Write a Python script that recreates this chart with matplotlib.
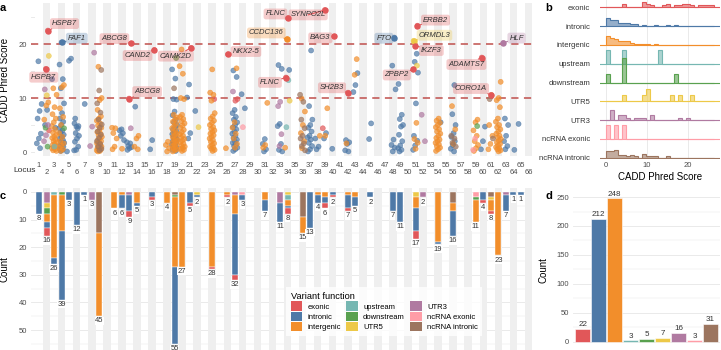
import matplotlib.pyplot as plt
from matplotlib.patches import Patch
from matplotlib.colors import to_rgba
import numpy as np

plt.rcParams['font.family'] = ['Liberation Sans', 'DejaVu Sans']

categories = ['exonic', 'intronic', 'intergenic', 'upstream', 'downstream',
              'UTR5', 'UTR3', 'ncRNA exonic', 'ncRNA intronic']
colors = ['#e15759', '#4e79a7', '#f28e2b', '#76b7b2', '#59a14f',
          '#edc948', '#b07aa1', '#ff9da7', '#9c755f']
n_loci = 66

# CADD Phred scores of the variants, by locus, one dict per variant function
exonic = {2: [22.5, 15.4, 4.0], 13: [20.1, 9.9], 16: [18.9], 21: [19.3], 24: [9.8],
          26: [18.1], 27: [9.8, 9.5], 34: [24.8, 13.8], 39: [26.3, 4.4], 40: [21.4],
          42: [11.0], 51: [23.4, 19.7, 15.3], 60: [17.5], 61: [10.6]}

intronic = {
    1: [16.8, 8.9, 7.6, 6.2, 3.4, 2.5, 1.6, 0.7],
    2: [7.8, 5.0],
    3: [13.5, 4.5],
    4: [20.3, 16.2, 13.5, 11.8, 9.0, 7.2, 6.2, 5.6, 5.0, 4.4, 4.0, 3.6, 3.2, 2.8, 2.5,
        2.2, 1.9, 1.7, 1.4, 1.2, 1.0, 0.8, 0.6, 0.4, 0.2],
    5: [17.3, 16.9, 0.1],
    6: [6.2, 4.8, 4.7, 5.3, 4.4, 3.5, 3.0, 2.5, 1.9, 1.0, 0.4, 0.3],
    7: [8.9],
    12: [4.2, 4.0, 3.5, 3.0, 2.2],
    13: [1.8, 1.6, 1.1, 0.9, 0.7, 0.4],
    14: [8.4],
    16: [2.2, 0.5],
    19: [15.3, 13.6, 9.8, 9.7, 7.5, 6.8, 6.0, 5.5, 5.0, 4.6, 4.2, 3.9, 3.6, 3.3, 3.0,
         2.7, 2.4, 2.2, 2.0, 1.8, 1.6, 1.4, 1.2, 1.0, 0.8, 0.6, 0.4, 0.2],
    21: [12.5, 10.1, 3.5, 2.5],
    22: [7.6],
    27: [15.1, 13.9, 7.8, 7.2, 6.5, 6.0, 5.5, 5.0, 4.6, 4.2, 3.8, 3.4, 3.0, 2.6, 2.3,
         2.0, 1.7, 1.4, 1.1, 0.8, 0.5, 0.2],
    28: [10.7, 8.1],
    31: [2.4, 1.5, 0.5, 0.1],
    33: [16.1, 15.4, 5.2, 4.8, 1.5, 0.4, 0.1],
    34: [15.2],
    37: [18.8, 8.5, 6.0, 5.0, 4.5, 3.8, 3.0, 2.7, 2.3, 1.7, 1.1, 0.5, 0.1],
    38: [2.5, 1.0, 0.5],
    39: [3.5, 2.5],
    40: [0.6],
    42: [2.2, 1.8, 1.5, 0.3, 0.1],
    43: [14.6, 12.4, 11.1],
    45: [5.3, 2.4],
    48: [21.2, 16.0, 11.6, 2.3, 1.3, 0.8, 0.1],
    49: [12.6, 6.9, 6.1, 5.0, 4.7, 3.2, 2.0, 1.2, 0.7, 0.4, 0.1],
    51: [18.2, 16.7, 14.7, 9.0, 3.0, 2.1, 1.2, 0.4],
    54: [5.5],
    56: [12.4, 7.0, 5.0, 3.5, 2.8, 2.0, 1.3, 0.6, 0.1],
    60: [4.7, 2.0, 0.5],
    63: [6.2, 5.0, 3.0, 2.0, 1.1, 0.5],
    64: [0.4],
    65: [5.2],
}

intergenic = {
    2: [9.2, 8.6, 6.0],
    3: [11.8, 10.6, 8.3, 7.0, 6.2, 5.5, 4.8, 4.2, 3.6, 3.2, 2.8, 2.6, 2.3, 2.0, 1.8,
        1.5, 1.3, 1.1, 0.9, 0.7, 0.5, 0.3, 0.2],
    4: [12.4, 12.0, 8.1, 6.5, 5.0, 3.5, 2.8, 2.0, 1.6, 1.2, 0.8, 0.5, 0.2],
    9: [15.8, 10.0, 9.6, 7.8, 6.6, 6.2, 5.8, 5.3, 4.9, 4.5, 4.1, 3.7, 3.4, 3.1, 2.8,
        2.5, 2.2, 2.0, 1.8, 1.6, 1.4, 1.2, 1.0, 0.8, 0.7, 0.5, 0.4, 0.3, 0.2, 0.1],
    11: [4.5, 4.4, 3.5, 2.5, 1.0, 0.5],
    12: [0.6],
    14: [3.0, 2.5, 1.0, 0.5],
    18: [1.9, 1.3, 0.7, 0.1],
    19: [6.9, 6.4, 6.0, 5.6, 5.2, 4.8, 4.4, 4.0, 3.7, 3.4, 3.1, 2.8, 2.5, 2.3, 2.1,
         1.9, 1.7, 1.5, 1.3, 1.1, 0.9, 0.7, 0.5, 0.3, 0.1],
    20: [19.0, 15.9, 14.5, 10.0, 9.8, 6.9, 6.5, 6.1, 5.7, 5.3, 4.9, 4.5, 4.1, 3.7, 3.3,
         3.0, 2.7, 2.4, 2.1, 1.8, 1.5, 1.2, 1.0, 0.8, 0.6, 0.4, 0.2],
    24: [15.3, 11.0, 10.6, 9.5, 7.2, 6.6, 6.2, 5.8, 5.4, 5.0, 4.6, 4.3, 4.0, 3.7, 3.4,
         3.1, 2.8, 2.5, 2.2, 1.9, 1.6, 1.3, 1.0, 0.8, 0.6, 0.4, 0.2],
    26: [0.7],
    27: [15.5, 5.5, 4.5, 3.4, 2.5, 1.5, 0.8],
    31: [9.1, 1.3, 0.8],
    34: [20.9, 0.8],
    36: [9.9, 7.5, 5.0, 3.5, 2.0, 0.7],
    38: [3.0],
    39: [8.1, 3.0],
    42: [1.6],
    43: [17.2, 14.3],
    51: [5.4, 2.4, 1.7, 0.6],
    54: [6.2, 5.8, 5.4, 5.0, 4.6, 4.2, 3.8, 3.4, 3.0, 2.6, 2.3, 2.0, 1.7, 1.4, 1.1,
         0.8, 0.5, 0.2],
    56: [8.5, 4.2, 1.5],
    59: [6.0, 5.5, 4.0, 3.0, 2.0, 1.3, 0.7, 0.2],
    61: [5.0, 3.0, 1.5, 0.5],
    62: [13.0, 10.0, 9.6, 8.3, 6.2, 5.6, 5.0, 4.6, 4.2, 3.8, 3.4, 3.0, 2.7, 2.4, 2.1,
         1.8, 1.5, 1.2, 0.9, 0.7, 0.5, 0.3, 0.1],
}

upstream = {3: [1.0], 34: [13.3, 4.6]}
downstream = {2: [1.0, 4.5], 4: [4.4], 19: [17.4], 59: [4.8]}
utr5 = {2: [17.8, 10.5], 22: [4.6], 34: [9.5], 51: [20.6, 16.0], 61: [10.5]}
utr3 = {2: [11.6, 5.0, 3.1, 2.0], 8: [18.4, 4.7, 1.1], 13: [4.4], 27: [11.2],
        33: [9.3, 8.5, 3.3, 1.1], 52: [6.9, 2.0], 63: [20.2]}
ncrna_exonic = {28: [4.6], 59: [2.5, 0.4]}
ncrna_intronic = {9: [15.2, 11.4, 9.0, 7.3, 6.0, 5.1, 4.5, 3.8, 3.2, 2.6, 2.0, 1.5, 1.0, 0.6, 0.3],
                  19: [11.8],
                  36: [10.6, 9.3, 6.0, 4.4, 3.0, 2.5, 1.6, 1.1, 0.3],
                  56: [3.0, 2.5, 1.7, 1.0],
                  61: [9.8, 2.5]}

score_sets = [exonic, intronic, intergenic, upstream, downstream,
              utr5, utr3, ncrna_exonic, ncrna_intronic]

# labelled genes: name, locus, variant function, score, label offset (points)
label_genes = ['HSPB7', 'HSPB7', 'FAF1', 'ABCG8', 'CAND2', 'CAMK2D', 'ABCG8', 'NKX2-5',
               'CCDC136', 'FLNC', 'SYNPO2L', 'BAG3', 'FLNC', 'SH2B3', 'FTO', 'ERBB2',
               'ORMDL3', 'IKZF3', 'ZPBP2', 'ADAMTS7', 'CORO1A', 'HLF']
label_locus = [2, 2, 4, 13, 16, 21, 13, 26, 34, 34, 39, 40, 34, 42, 48, 51, 51, 51, 51, 60, 61, 63]
label_cat = [0, 0, 1, 0, 0, 0, 0, 0, 2, 0, 0, 0, 0, 0, 1, 0, 5, 0, 0, 0, 0, 6]
label_score = [22.5, 15.4, 20.3, 20.1, 18.9, 19.3, 9.9, 18.1, 20.9, 24.8, 26.3, 21.4,
               13.8, 11.0, 21.2, 23.4, 20.6, 19.7, 15.3, 17.5, 10.6, 20.2]
label_dx = [12, -1.5, 11, -12, -12, -11, 13, 13, -15, -9, -12, -10, -11.5, -11.5, -7.5,
            13, 15, 11.5, -12, -11, -14.5, 9.5]
label_dy = [5, -6, 3, 3.5, -4, -6, 5, 2, 4.5, 3, -3.5, -1, -3.5, 3.5, -0.5,
            4, 4, -3.5, -4, -5, 4.5, 3.5]

# ---- flatten points with a simple jitter
pt_x, pt_y, pt_c, pt_l = [], [], [], []
seen = {}
for ci, d in enumerate(score_sets):
    for locus, vals in d.items():
        for v in vals:
            k = seen.get(locus, 0)
            seen[locus] = k + 1
            off = ((k * 0.618034 + locus * 0.37) % 1 - 0.5) * 0.7
            pt_x.append(locus + off)
            pt_y.append(v)
            pt_c.append(ci)
            pt_l.append(locus)
pt_x = np.array(pt_x); pt_y = np.array(pt_y); pt_c = np.array(pt_c); pt_l = np.array(pt_l)

counts = np.zeros((len(categories), n_loci + 1), dtype=int)
for ci, d in enumerate(score_sets):
    for locus, vals in d.items():
        counts[ci, locus] = len(vals)
totals_locus = counts.sum(axis=0)
totals_cat = counts.sum(axis=1)

grey_txt = '#4d4d4d'
band = '#efefef'
grid = '#e6e6e6'

fig = plt.figure(figsize=(7.21, 3.5), dpi=100)
xlim = (-0.07, 66.47)

# ---------------- panel a
ax_a = fig.add_axes([31 / 721, 1 - 156 / 350, 501 / 721, 153 / 350])
ax_a.set_xlim(*xlim)
ax_a.set_ylim(-0.74, 27.6)
for y in range(0, 30, 5):
    ax_a.axhline(y, color=grid, lw=0.6, zorder=0)
for L in range(1, n_loci + 1):
    ax_a.axvspan(L - 0.5, L + 0.5, color=band if L % 2 == 0 else 'white', lw=0, zorder=0.5)
for y in (10, 20):
    ax_a.axhline(y, color='#c0504d', ls=(0, (4, 3)), lw=1.3, alpha=0.85, zorder=1)
pcol = [colors[c] for c in pt_c]
ax_a.scatter(pt_x, pt_y, s=13, c=pcol, alpha=0.7, edgecolors=pcol, linewidths=0.45, zorder=2)

for g, L, c, s, dx, dy in zip(label_genes, label_locus, label_cat, label_score, label_dx, label_dy):
    idx = np.where((pt_l == L) & (pt_c == c) & (np.abs(pt_y - s) < 1e-6))[0][0]
    xp, yp = pt_x[idx], pt_y[idx]
    ax_a.scatter([xp], [yp], s=13, color=colors[c], edgecolors=colors[c], zorder=3)
    ax_a.annotate(g, xy=(xp, yp), xytext=(dx, dy), textcoords='offset points',
                  ha='center', va='center', fontsize=5.5, style='italic', color='#333333',
                  bbox=dict(boxstyle='round,pad=0.25,rounding_size=0.3',
                            fc=to_rgba(colors[c], 0.3), ec='none'),
                  arrowprops=dict(arrowstyle='-', color=colors[c], lw=0.8,
                                  shrinkA=0, shrinkB=1),
                  zorder=4)

ax_a.set_yticks([0, 10, 20])
ax_a.set_xticks([])
ax_a.tick_params(axis='y', length=0, labelsize=5.5, labelcolor=grey_txt, pad=3)
ax_a.set_ylabel('CADD Phred Score', fontsize=7)
ax_a.yaxis.set_label_coords(-0.042, 0.5)
for sp in ax_a.spines.values():
    sp.set_visible(False)
for L in range(1, n_loci + 1):
    yfrac = -0.059 if L % 2 == 1 else -0.111
    ax_a.text(L, yfrac, str(L), transform=ax_a.get_xaxis_transform(),
              ha='center', va='center', fontsize=5.5, color=grey_txt)
fig.text(36 / 721, 1 - 170 / 350, 'Locus', ha='right', va='center', fontsize=6, color='#333333')

# ---------------- panel b
ax_b = fig.add_axes([600 / 721, 1 - 159 / 350, 120 / 721, 159 / 350])
bx = (-1.46, 27.8)
ax_b.set_xlim(*bx)
ax_b.set_ylim(-0.07, 8.39)
for xv in (0, 10, 20):
    ax_b.axvline(xv, color=grid, lw=0.6, zorder=0)
edges = np.linspace(pt_y.min(), pt_y.max(), 28)
for ci, col in enumerate(colors):
    base = 8 - ci
    vals = pt_y[pt_c == ci]
    h, _ = np.histogram(vals, bins=edges)
    h = 2.2 * h / len(vals)
    ax_b.plot(bx, [base, base], color=col, lw=0.8, zorder=2 + ci)
    ax_b.stairs(base + h, edges, baseline=base, fill=True, color=col, alpha=0.6,
                lw=0, zorder=2 + ci)
    ax_b.stairs(base + h, edges, baseline=base, fill=False, color=col, lw=0.8, zorder=2 + ci)
ax_b.set_yticks(range(8, -1, -1), categories)
ax_b.set_xticks([0, 10, 20])
ax_b.tick_params(axis='y', length=0, labelsize=5.5, labelcolor='#333333', pad=7)
ax_b.tick_params(axis='x', length=0, labelsize=5.5, labelcolor=grey_txt, pad=2)
ax_b.set_xlabel('CADD Phred Score', fontsize=7, labelpad=2)
for sp in ax_b.spines.values():
    sp.set_visible(False)

# ---------------- panel c
ax_c = fig.add_axes([31 / 721, 0, 501 / 721, 162 / 350])
ax_c.set_xlim(*xlim)
ax_c.set_ylim(57.2, -1.4)
for y in range(0, 60, 10):
    ax_c.axhline(y, color=grid, lw=0.6, zorder=0)
    ax_c.axhline(y + 5, color=grid, lw=0.3, zorder=0)
for L in range(2, n_loci + 1, 2):
    ax_c.axvspan(L - 0.5, L + 0.5, color=band, lw=0, zorder=0.5)
loci = np.arange(n_loci + 1)
bottom = np.zeros(n_loci + 1)
for ci in range(len(categories) - 1, -1, -1):
    m = counts[ci] > 0
    ax_c.bar(loci[m], counts[ci][m], bottom=bottom[m], width=0.8, color=colors[ci],
             edgecolor='white', linewidth=0.3, zorder=2)
    bottom += counts[ci]
for L in range(1, n_loci + 1):
    if totals_locus[L] > 0:
        ax_c.text(L, totals_locus[L] + 0.4, str(totals_locus[L]), ha='center', va='top',
                  fontsize=5.5, color='#333333', zorder=3,
                  bbox=dict(fc='white', ec='none', pad=0.3))
ax_c.set_yticks(range(0, 60, 10))
ax_c.set_xticks([])
ax_c.tick_params(axis='y', length=0, labelsize=5.5, labelcolor=grey_txt, pad=3)
ax_c.set_ylabel('Count', fontsize=7)
ax_c.yaxis.set_label_coords(-0.042, 0.5)
for sp in ax_c.spines.values():
    sp.set_visible(False)

handles = [Patch(fc=col, ec='none') for col in colors]
leg = ax_c.legend(handles, categories, ncol=3, loc='upper left',
                  bbox_to_anchor=(286 / 721, 1 - 287 / 350), bbox_transform=fig.transFigure,
                  borderaxespad=0, fontsize=5.5, title='Variant function', title_fontsize=6.7,
                  alignment='left', handlelength=1.5, handleheight=1.5, labelspacing=0.12,
                  handletextpad=0.7, columnspacing=0.7, frameon=True, fancybox=False,
                  borderpad=0.6)
leg.get_frame().set_facecolor('white')
leg.get_frame().set_edgecolor('none')
leg.set_zorder(5)

# ---------------- panel d
ax_d = fig.add_axes([573 / 721, 1 - 349 / 350, 147 / 721, 158 / 350])
ax_d.set_xlim(0.4, 9.6)
ax_d.set_ylim(-12.4, 260.4)
for y in range(0, 260, 50):
    ax_d.axhline(y, color=grid, lw=0.6, zorder=0)
    ax_d.axhline(y + 25, color=grid, lw=0.3, zorder=0)
xs = np.arange(1, len(categories) + 1)
ax_d.bar(xs, totals_cat, width=0.9, color=colors, edgecolor='white', linewidth=0.4, zorder=2)
for x, t in zip(xs, totals_cat):
    ax_d.text(x, t + 1, str(t), ha='center', va='bottom', fontsize=5.8, color='#333333', zorder=3)
ax_d.set_yticks(range(0, 260, 50))
ax_d.set_xticks([])
ax_d.tick_params(axis='y', length=0, labelsize=5.5, labelcolor=grey_txt, pad=3)
ax_d.set_ylabel('Count', fontsize=7)
ax_d.yaxis.set_label_coords(-0.17, 0.5)
for sp in ax_d.spines.values():
    sp.set_visible(False)

# panel letters
for lab, xp, yp in [('a', 3, 8), ('b', 549, 8), ('c', 3, 196), ('d', 549, 196)]:
    fig.text(xp / 721, 1 - yp / 350, lab, fontsize=8, fontweight='bold', ha='center', va='center')

fig.savefig('out.png', dpi=100)
